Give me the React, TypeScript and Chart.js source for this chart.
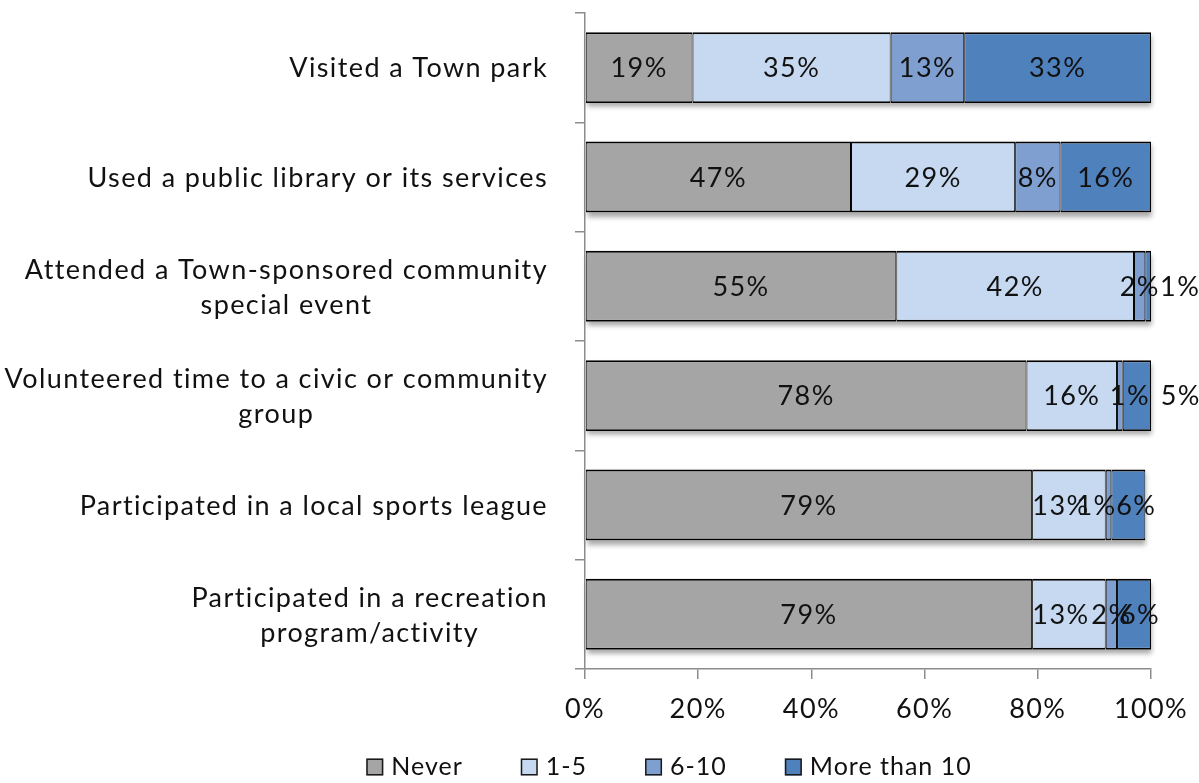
import React, { useEffect, useRef } from "react";
import { Chart, registerables } from "chart.js";

Chart.register(...registerables);

const categories: string[][] = [
  ["Visited a Town park"],
  ["Used a public library or its services"],
  ["Attended a Town-sponsored community", "special event"],
  ["Volunteered time to a civic or community", "group"],
  ["Participated in a local sports league"],
  ["Participated in a recreation", "program/activity"],
];
const seriesNames = ["Never", "1-5", "6-10", "More than 10"];
const never = [19, 47, 55, 78, 79, 79];
const oneToFive = [35, 29, 42, 16, 13, 13];
const sixToTen = [13, 8, 2, 1, 1, 2];
const moreThanTen = [33, 16, 1, 5, 6, 6];
const xTickValues = [0, 20, 40, 60, 80, 100];
const seriesColors = ["#a5a5a5", "#c6d9f1", "#7f9fd0", "#4f81bd"];

const FONT_FAMILY = "Lato, 'Open Sans', sans-serif";
const FONT_SIZE = 27;
const LETTER_SPACING = "1.4px";
const AXIS_GRAY = "#8c8c8c";
const TEXT_COLOR = "#111111";

// label nudges (Excel-style collision placement): key "dataset:index" -> dx px
const labelNudges: Record<string, number> = {
  "3:2": 32,
  "2:3": 10,
  "3:3": 44,
  "1:4": -8,
  "2:4": -12,
  "3:4": 8,
  "1:5": -8,
  "3:5": 6,
};

const spacingPlugin = {
  id: "letterSpacing",
  beforeUpdate(chart: any) {
    (chart.ctx as any).letterSpacing = LETTER_SPACING;
  },
  beforeDraw(chart: any) {
    (chart.ctx as any).letterSpacing = LETTER_SPACING;
  },
};

const barDecorPlugin = {
  id: "barDecor",
  beforeDatasetsDraw(chart: any) {
    const ctx = chart.ctx as CanvasRenderingContext2D;
    const metas = chart.data.datasets.map((_: any, i: number) => chart.getDatasetMeta(i));
    const n = chart.data.labels.length;
    ctx.save();
    ctx.shadowColor = "rgba(0,0,0,0.35)";
    ctx.shadowBlur = 5;
    ctx.shadowOffsetX = 1;
    ctx.shadowOffsetY = 4;
    ctx.fillStyle = "#ffffff";
    for (let i = 0; i < n; i++) {
      const first = metas[0].data[i];
      const last = metas[metas.length - 1].data[i];
      if (!first || !last) continue;
      const h = first.height;
      const left = Math.min(first.base, first.x);
      const right = Math.max(last.x, last.base);
      ctx.fillRect(left, first.y - h / 2, right - left, h);
    }
    ctx.restore();
  },
  afterDatasetsDraw(chart: any) {
    const ctx = chart.ctx as CanvasRenderingContext2D;
    ctx.save();
    (ctx as any).letterSpacing = LETTER_SPACING;
    ctx.font = `${FONT_SIZE}px ${FONT_FAMILY}`;
    ctx.fillStyle = TEXT_COLOR;
    ctx.textAlign = "center";
    ctx.textBaseline = "middle";
    chart.data.datasets.forEach((ds: any, di: number) => {
      const meta = chart.getDatasetMeta(di);
      meta.data.forEach((bar: any, i: number) => {
        const v = ds.data[i];
        if (v == null) return;
        const cx = (bar.x + bar.base) / 2 + (labelNudges[`${di}:${i}`] || 0);
        ctx.fillText(`${v}%`, cx, bar.y + 1);
      });
    });
    ctx.restore();
  },
};

const yLabelPlugin = {
  id: "yLabels",
  afterDraw(chart: any) {
    const ctx = chart.ctx as CanvasRenderingContext2D;
    const yScale = chart.scales.y;
    ctx.save();
    (ctx as any).letterSpacing = LETTER_SPACING;
    ctx.font = `${FONT_SIZE}px ${FONT_FAMILY}`;
    ctx.fillStyle = TEXT_COLOR;
    ctx.textAlign = "center";
    ctx.textBaseline = "middle";
    const lineH = 35;
    const right = yScale.right - 37;
    categories.forEach((lines, i) => {
      const y = yScale.getPixelForValue(i);
      const w = Math.max(...lines.map((l) => ctx.measureText(l).width));
      const cx = right - w / 2;
      lines.forEach((l, j) => {
        ctx.fillText(l, cx, y + (j - (lines.length - 1) / 2) * lineH + 1);
      });
    });
    ctx.restore();
  },
};

const LEGEND_CENTER_X = 669;
const LEGEND_Y = 766;
const LEGEND_BOX = 17;
const LEGEND_TEXT_GAP = 8;
const LEGEND_ITEM_GAP = 58;
const LEGEND_FONT_SIZE = 25;

const legendPlugin = {
  id: "customLegend",
  afterDraw(chart: any) {
    const ctx = chart.ctx as CanvasRenderingContext2D;
    ctx.save();
    (ctx as any).letterSpacing = "1px";
    ctx.font = `${LEGEND_FONT_SIZE}px ${FONT_FAMILY}`;
    ctx.textAlign = "left";
    ctx.textBaseline = "middle";
    const items = chart.data.datasets.map((ds: any) => ({
      text: ds.label as string,
      color: ds.backgroundColor as string,
      w: ctx.measureText(ds.label).width,
    }));
    const total =
      items.reduce((s: number, it: any) => s + LEGEND_BOX + LEGEND_TEXT_GAP + it.w, 0) +
      LEGEND_ITEM_GAP * (items.length - 1);
    let x = LEGEND_CENTER_X - total / 2;
    items.forEach((it: any) => {
      const by = LEGEND_Y - LEGEND_BOX / 2 + 1;
      ctx.fillStyle = it.color;
      ctx.fillRect(x, by, LEGEND_BOX, LEGEND_BOX);
      ctx.strokeStyle = "#1a1a1a";
      ctx.lineWidth = 1.5;
      ctx.strokeRect(x + 0.75, by + 0.75, LEGEND_BOX - 1.5, LEGEND_BOX - 1.5);
      ctx.fillStyle = TEXT_COLOR;
      ctx.fillText(it.text, x + LEGEND_BOX + LEGEND_TEXT_GAP, LEGEND_Y + 1);
      x += LEGEND_BOX + LEGEND_TEXT_GAP + it.w + LEGEND_ITEM_GAP;
    });
    ctx.restore();
  },
};

export default function App() {
  const ref = useRef<HTMLCanvasElement | null>(null);

  useEffect(() => {
    if (!ref.current) return;
    const series = [never, oneToFive, sixToTen, moreThanTen];
    const font = { family: FONT_FAMILY, size: FONT_SIZE };
    const chart = new Chart(ref.current, {
      type: "bar",
      data: {
        labels: categories.map((c) => c.join(" ")),
        datasets: series.map((d, i) => ({
          label: seriesNames[i],
          data: d,
          backgroundColor: seriesColors[i],
          borderColor: "#000000",
          borderWidth: { top: 2, bottom: 2, left: 1, right: 1 },
          borderSkipped: false,
          barPercentage: 0.65,
          categoryPercentage: 1,
        })),
      },
      options: {
        indexAxis: "y",
        responsive: false,
        animation: false,
        events: [],
        layout: { padding: { left: 181, right: 48, top: 13, bottom: 57 } },
        plugins: {
          tooltip: { enabled: false },
          legend: { display: false },
        },
        scales: {
          x: {
            stacked: true,
            min: 0,
            max: 100,
            afterBuildTicks: (s: any) => {
              s.ticks = xTickValues.map((v) => ({ value: v }));
            },
            afterFit: (s: any) => {
              s.height = 57;
              s.paddingLeft = 0;
              s.paddingRight = 0;
            },
            ticks: {
              font,
              color: TEXT_COLOR,
              padding: 14,
              autoSkip: false,
              maxRotation: 0,
              callback: (v: any) => `${v}%`,
            },
            grid: {
              drawOnChartArea: false,
              drawTicks: true,
              tickLength: 10,
              color: AXIS_GRAY,
              lineWidth: 1.5,
            },
            border: { display: true, color: AXIS_GRAY, width: 1.5 },
          },
          y: {
            stacked: true,
            afterFit: (s: any) => {
              s.width = 404;
              s.paddingTop = 0;
              s.paddingBottom = 0;
            },
            ticks: { display: false },
            grid: {
              offset: true,
              drawOnChartArea: false,
              drawTicks: true,
              tickLength: 10,
              color: AXIS_GRAY,
              lineWidth: 1.5,
            },
            border: { display: true, color: AXIS_GRAY, width: 1.5 },
          },
        },
      },
      plugins: [spacingPlugin, barDecorPlugin, yLabelPlugin, legendPlugin],
    } as any);
    return () => chart.destroy();
  }, []);

  return (
    <div style={{ position: "absolute", left: 0, top: 0, width: 1199, height: 783, background: "#fff" }}>
      <canvas ref={ref} width={1199} height={783} />
    </div>
  );
}
